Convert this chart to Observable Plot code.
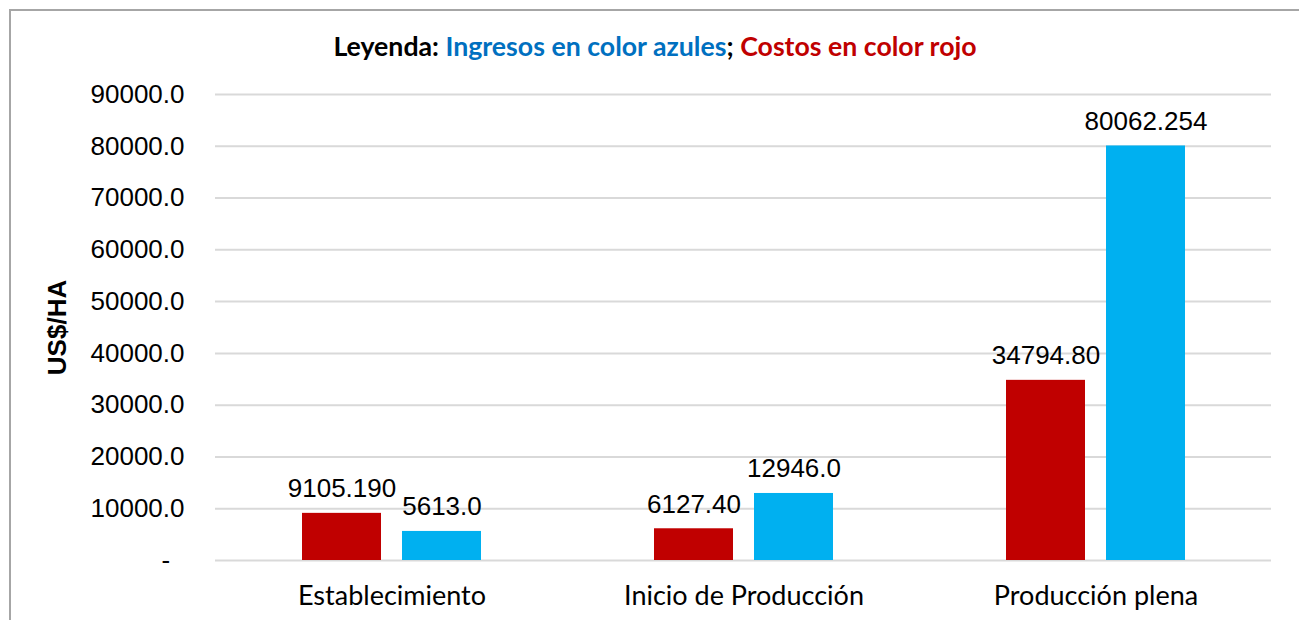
<!DOCTYPE html>
<html>
<head>
<meta charset="utf-8">
<script src="https://cdn.jsdelivr.net/npm/d3@7"></script>
<script src="https://cdn.jsdelivr.net/npm/@observablehq/plot@0.6"></script>
<style>
  html, body { margin: 0; padding: 0; background: #fff; overflow: hidden; width: 1299px; height: 620px; }
  #frame { position: absolute; left: 9px; top: 9px; width: 1400px; height: 700px;
           border-top: 2px solid #a6a6a6; border-left: 2px solid #a6a6a6; box-sizing: border-box;
           pointer-events: none; z-index: 5; }
  #title { position: absolute; left: 9px; top: 30px; width: 1292px; text-align: center;
           font-family: Lato, sans-serif; font-weight: bold; font-size: 26.7px; line-height: 1.2; color: #000; }
  #chart { position: absolute; left: 0; top: 70px; }
  #chart svg { background: transparent; overflow: visible; }
  #chart [aria-label="y-axis label"] text { font-family: "Liberation Sans", Arial, sans-serif; font-weight: bold; font-size: 26px; }
</style>
</head>
<body>
<div id="title"><span>Leyenda: </span><span style="color:#0070C0">Ingresos en color azules</span><span>;</span> <span style="color:#C00000">Costos en color rojo</span></div>
<div id="chart"></div>
<div id="frame"></div>
<script>
const categories = ["Establecimiento", "Inicio de Producción", "Producción plena"];
const costos = [9105.19, 6127.40, 34794.80];
const costosLabels = ["9105.190", "6127.40", "34794.80"];
const ingresos = [5613.0, 12946.0, 80062.254];
const ingresosLabels = ["5613.0", "12946.0", "80062.254"];
const yTicks = [0, 10000, 20000, 30000, 40000, 50000, 60000, 70000, 80000, 90000];

const costosData = categories.map((c, i) => ({cat: c, value: costos[i], label: costosLabels[i]}));
const ingresosData = categories.map((c, i) => ({cat: c, value: ingresos[i], label: ingresosLabels[i]}));

const RED = "#C00000", BLUE = "#00B0F0";

const chart = Plot.plot({
  width: 1299,
  height: 550,
  marginLeft: 215,
  marginRight: 28,
  marginTop: 24,
  marginBottom: 60,
  style: {background: "transparent", overflow: "visible"},
  x: {domain: categories, paddingInner: 0.4915, paddingOuter: 0.2457, label: null},
  y: {domain: [0, 90000], label: null},
  marks: [
    Plot.ruleY(yTicks, {stroke: "#d9d9d9", strokeWidth: 2}),
    Plot.barY(costosData, {x: "cat", y: "value", fill: RED, insetRight: 100, insetLeft: 0}),
    Plot.barY(ingresosData, {x: "cat", y: "value", fill: BLUE, insetLeft: 100, insetRight: 0}),
    Plot.text(costosData, {x: "cat", y: "value", text: "label", dx: -50, dy: -16, lineAnchor: "bottom",
      fontFamily: "Liberation Sans, Arial, sans-serif", fontSize: 26, fill: "#000"}),
    Plot.text(ingresosData, {x: "cat", y: "value", text: "label", dx: 50, dy: -16, lineAnchor: "bottom",
      fontFamily: "Liberation Sans, Arial, sans-serif", fontSize: 26, fill: "#000"}),
    Plot.axisY({ticks: yTicks, tickSize: 0, tickPadding: 31,
      tickFormat: d => d === 0 ? "-\u00a0\u00a0" : d.toFixed(1),
      fontFamily: "Liberation Sans, Arial, sans-serif", fontSize: 26, fill: "#000",
      label: "US$/HA", labelArrow: false, labelAnchor: "center", labelOffset: 168}),
    Plot.axisX({tickSize: 0, tickPadding: 25, fontFamily: "Lato, sans-serif", fontSize: 27, fill: "#000", label: null})
  ]
});
document.getElementById("chart").appendChild(chart);
</script>
</body>
</html>
